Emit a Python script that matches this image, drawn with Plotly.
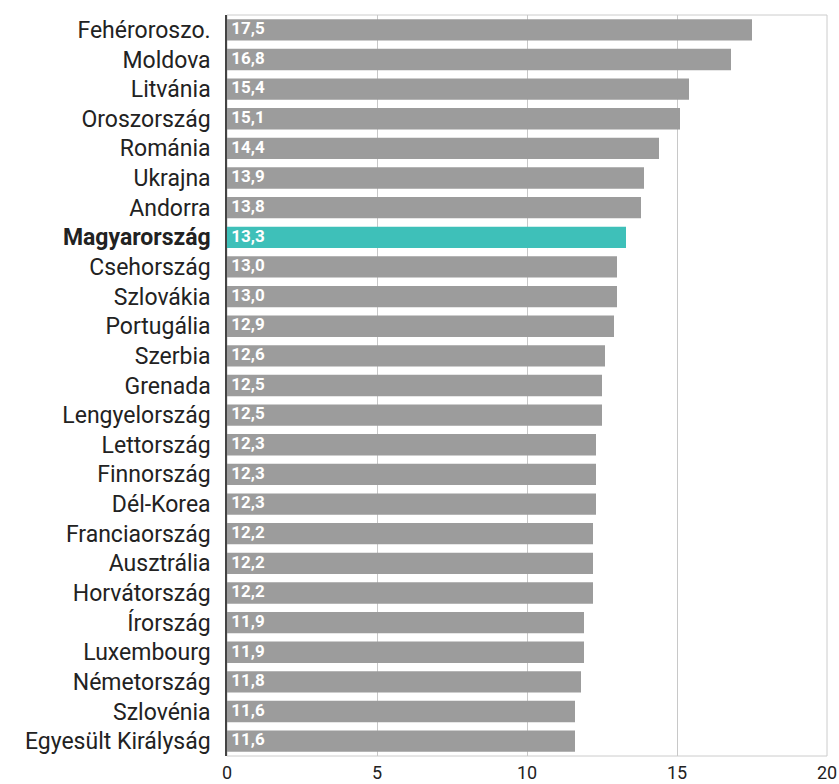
import plotly.graph_objects as go

countries = ["Fehéroroszo.", "Moldova", "Litvánia", "Oroszország", "Románia", "Ukrajna",
             "Andorra", "Magyarország", "Csehország", "Szlovákia", "Portugália", "Szerbia",
             "Grenada", "Lengyelország", "Lettország", "Finnország", "Dél-Korea",
             "Franciaország", "Ausztrália", "Horvátország", "Írország", "Luxembourg",
             "Németország", "Szlovénia", "Egyesült Királyság"]
values = [17.5, 16.8, 15.4, 15.1, 14.4, 13.9, 13.8, 13.3, 13.0, 13.0, 12.9, 12.6,
          12.5, 12.5, 12.3, 12.3, 12.3, 12.2, 12.2, 12.2, 11.9, 11.9, 11.8, 11.6, 11.6]
highlight = "Magyarország"

gray = "#9c9c9c"
teal = "#3ec0b9"
colors = [teal if c == highlight else gray for c in countries]
labels = [("<b>%s</b>" % c) if c == highlight else c for c in countries]
texts = ["&nbsp;<b>%s</b>" % ("%.1f" % v).replace(".", ",") for v in values]

fig = go.Figure()
fig.add_trace(go.Bar(
    x=values, y=labels, orientation="h",
    marker=dict(color=colors, line=dict(width=0)),
    hoverinfo="skip",
))
fig.add_trace(go.Scatter(
    x=[0] * len(values), y=labels, mode="text", text=texts,
    textposition="middle right",
    textfont=dict(color="white", size=17, family="Roboto"),
    hoverinfo="skip", cliponaxis=False,
))

fig.update_layout(
    width=839, height=784,
    margin=dict(l=227, r=12, t=15, b=28),
    paper_bgcolor="white", plot_bgcolor="white",
    bargap=0.28, showlegend=False,
    font=dict(family="Roboto", color="#222222"),
    shapes=[dict(type="rect", xref="paper", yref="paper", x0=0, x1=1, y0=0, y1=1,
                 line=dict(color="#cccccc", width=1), layer="below")],
)
fig.update_xaxes(range=[0, 20], tickmode="array", tickvals=[0, 5, 10, 15, 20],
                 showgrid=True, gridcolor="#c8c8c8", gridwidth=1, zeroline=False,
                 tickfont=dict(size=18, color="#222222"), ticks="", ticklabelstandoff=4,
                 automargin=False)
fig.update_yaxes(range=[len(countries) - 0.5, -0.5], tickmode="array",
                 tickvals=labels, ticktext=labels, showgrid=False, showline=True,
                 linecolor="#444444", linewidth=1.5, tickfont=dict(size=23, color="#222222"),
                 ticks="", ticklabelstandoff=10, automargin=False)

fig.write_html("out.html")
